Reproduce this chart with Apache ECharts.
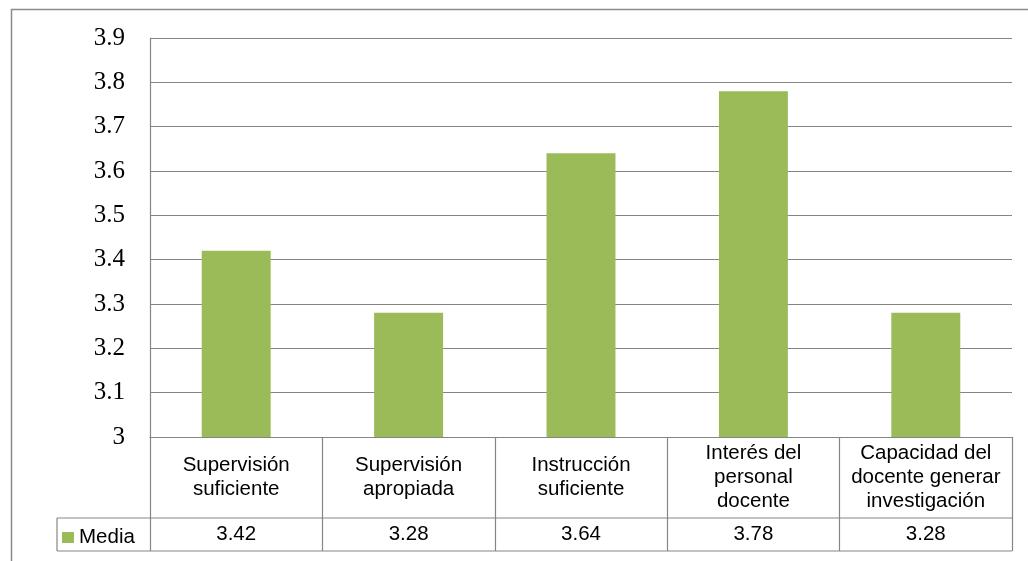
<!DOCTYPE html>
<html>
<head>
<meta charset="utf-8">
<script src="https://cdn.jsdelivr.net/npm/echarts@6/dist/echarts.min.js"></script>
<style>
  html, body { margin: 0; padding: 0; background: #fff; }
  #chart { width: 1028px; height: 561px; }
</style>
</head>
<body>
<div id="chart"></div>
<script>
// Mean score per evaluated aspect
const categories = [
  'Supervisión\nsuficiente',
  'Supervisión\napropiada',
  'Instrucción\nsuficiente',
  'Interés del\npersonal\ndocente',
  'Capacidad del\ndocente generar\ninvestigación'
];
const media = [3.42, 3.28, 3.64, 3.78, 3.28];
const seriesName = 'Media';
const yMin = 3.0;
const yMax = 3.9;
const yStep = 0.1;

// Plot frame and data-table geometry
const W = 1028, H = 561;
const plotLeft = 150, plotRight = 1012, plotTop = 38, plotBottom = 437;
const catRowBottom = 518, valRowBottom = 551, legendCellLeft = 57;
const lineColor = '#858585';
const barColor = '#9BBB59';
const sansFont = '"Liberation Sans", Arial, sans-serif';
const serifFont = '"Liberation Serif", "Times New Roman", serif';
const tableFontSize = 20.5;

const chart = echarts.init(document.getElementById('chart'), null, { renderer: 'canvas' });

const option = {
  animation: false,
  backgroundColor: '#fff',
  grid: {
    left: plotLeft,
    right: W - plotRight,
    top: plotTop,
    bottom: H - plotBottom,
    containLabel: false
  },
  legend: {
    data: [seriesName],
    left: legendCellLeft + 5,
    top: 527,
    icon: 'rect',
    itemWidth: 12,
    itemHeight: 11,
    itemGap: 5,
    padding: 0,
    textStyle: { fontFamily: sansFont, fontSize: tableFontSize, color: '#000' }
  },
  xAxis: [
    {
      type: 'category',
      data: categories,
      boundaryGap: true,
      position: 'bottom',
      axisLine: { show: true, lineStyle: { color: lineColor, width: 1.2 } },
      axisTick: {
        show: true,
        length: valRowBottom - plotBottom,
        lineStyle: { color: lineColor, width: 1.2 }
      },
      axisLabel: {
        interval: 0,
        margin: (catRowBottom - plotBottom) / 2,
        verticalAlign: 'middle',
        fontFamily: sansFont,
        fontSize: tableFontSize,
        lineHeight: 24,
        color: '#000'
      },
      splitLine: { show: false }
    },
    {
      type: 'category',
      data: media.map(v => v.toFixed(2)),
      boundaryGap: true,
      position: 'bottom',
      gridIndex: 0,
      axisLine: { show: false },
      axisTick: { show: false },
      axisLabel: {
        interval: 0,
        margin: (catRowBottom + valRowBottom) / 2 - plotBottom,
        verticalAlign: 'middle',
        fontFamily: sansFont,
        fontSize: tableFontSize,
        color: '#000'
      },
      splitLine: { show: false }
    }
  ],
  yAxis: {
    type: 'value',
    min: yMin,
    max: yMax,
    interval: yStep,
    axisLine: { show: true, lineStyle: { color: lineColor, width: 1.2 } },
    axisTick: { show: false },
    axisLabel: {
      margin: 25,
      fontFamily: serifFont,
      fontSize: 25,
      color: '#000',
      formatter: v => String(Math.round(v * 10) / 10)
    },
    splitLine: { show: true, lineStyle: { color: lineColor, width: 1.2 } }
  },
  series: [
    {
      name: seriesName,
      type: 'bar',
      data: media,
      barCategoryGap: '60%',
      itemStyle: { color: barColor },
      xAxisIndex: 0
    }
  ],
  graphic: [
    // outer chart frame
    {
      type: 'rect',
      shape: { x: 11.5, y: 9.5, width: W + 20, height: H + 20 },
      style: { fill: 'none', stroke: '#8a8a8a', lineWidth: 1.5 },
      silent: true
    },
    // data table: row separators and legend cell edge
    {
      type: 'polyline',
      shape: { points: [[legendCellLeft, catRowBottom], [plotRight, catRowBottom]] },
      style: { stroke: lineColor, lineWidth: 1.2 },
      silent: true
    },
    {
      type: 'polyline',
      shape: { points: [[legendCellLeft, valRowBottom], [plotRight, valRowBottom]] },
      style: { stroke: lineColor, lineWidth: 1.2 },
      silent: true
    },
    {
      type: 'polyline',
      shape: { points: [[legendCellLeft, catRowBottom], [legendCellLeft, valRowBottom]] },
      style: { stroke: lineColor, lineWidth: 1.2 },
      silent: true
    }
  ]
};

chart.setOption(option);
</script>
</body>
</html>
